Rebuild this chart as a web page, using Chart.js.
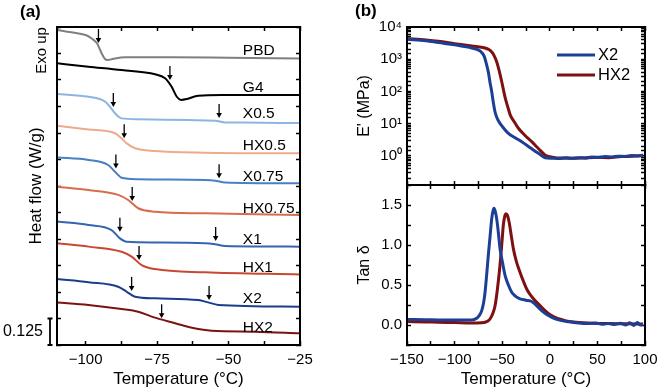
<!DOCTYPE html>
<html>
<head>
<meta charset="utf-8">
<script src="https://cdn.jsdelivr.net/npm/chart.js@4.4.1/dist/chart.umd.min.js"></script>
<style>
html, body { margin: 0; padding: 0; background: #fff; }
#wrap { position: relative; width: 661px; height: 392px; }
canvas { position: absolute; }
#dscChart { left: 0; top: 0; }
#modulusChart { left: 330px; top: 0; }
#tanChart { left: 330px; top: 184px; }
</style>
</head>
<body>
<div id="wrap">
  <canvas id="dscChart" width="330" height="392"></canvas>
  <canvas id="modulusChart" width="331" height="186"></canvas>
  <canvas id="tanChart" width="331" height="208"></canvas>
</div>
<script>
// ---- (a) DSC traces, heat flow in W/g (curves already offset) ----
const dscSamples = ['PBD', 'G4', 'X0.5', 'HX0.5', 'X0.75', 'HX0.75', 'X1', 'HX1', 'X2', 'HX2'];

const tPBD = [-110, -105, -100, -98, -96, -94.4, -93.2, -92.3, -90.3, -86.2, -70, -50, -25];
const hfPBD = [1.486, 1.475, 1.462, 1.447, 1.423, 1.376, 1.349, 1.344, 1.350, 1.357, 1.357, 1.355, 1.352];

const tG4 = [-110, -99, -87.4, -75.7, -72.2, -69.9, -68.1, -66.6, -64.6, -60.6, -52.4, -25];
const hfG4 = [1.329, 1.313, 1.297, 1.277, 1.258, 1.218, 1.171, 1.156, 1.160, 1.176, 1.179, 1.179];

const tX05 = [-110, -99, -93.2, -91.5, -89.7, -87.4, -81.6, -64.1, -54.7, -51.2, -45, -25];
const hfX05 = [1.184, 1.171, 1.148, 1.124, 1.093, 1.069, 1.065, 1.061, 1.058, 1.050, 1.049, 1.047];

const tHX05 = [-110, -99, -89.7, -87.4, -85.6, -82.7, -75.7, -58.2, -25];
const hfHX05 = [1.034, 1.017, 0.999, 0.975, 0.951, 0.928, 0.915, 0.907, 0.904];

const tX075 = [-110, -99, -92.1, -89.7, -87.4, -81.6, -58.2, -54.7, -51.2, -25];
const hfX075 = [0.885, 0.873, 0.849, 0.817, 0.789, 0.782, 0.778, 0.775, 0.767, 0.763];

const tHX075 = [-110, -99, -88.6, -85.1, -81.6, -75.7, -58.2, -25];
const hfHX075 = [0.747, 0.731, 0.708, 0.684, 0.645, 0.629, 0.621, 0.613];

const tX1 = [-110, -99, -90.9, -88, -85.6, -75.7, -58.2, -54.7, -51.2, -25];
const hfX1 = [0.582, 0.566, 0.542, 0.503, 0.487, 0.484, 0.480, 0.475, 0.467, 0.464];

const tHX1 = [-110, -99, -87.4, -83.9, -80.4, -75.7, -58.2, -25];
const hfHX1 = [0.480, 0.464, 0.440, 0.417, 0.377, 0.358, 0.343, 0.333];

const tX2 = [-110, -99, -88.6, -85.6, -82.7, -75.7, -60.6, -57.1, -53.6, -25];
const hfX2 = [0.311, 0.296, 0.275, 0.251, 0.228, 0.220, 0.212, 0.201, 0.189, 0.181];

const tHX2 = [-110, -99, -87.4, -81.6, -76.9, -69.9, -60.6, -55.9, -40.7, -25];
const hfHX2 = [0.201, 0.189, 0.170, 0.157, 0.134, 0.107, 0.075, 0.067, 0.063, 0.055];

// Tg markers (arrow tips)
const arrowT = [-95.5, -70.5, -90.3, -53.3, -86.5, -89.4, -53.3, -83.7, -88, -54.5, -81.3, -83.9, -56.8, -73.4];
const arrowHF = [1.425, 1.250, 1.123, 1.071, 0.975, 0.833, 0.786, 0.679, 0.534, 0.491, 0.401, 0.255, 0.212, 0.126];

const dscTempTicks = [-100, -75, -50, -25];
const scaleBarValue = 0.125;

// ---- (b) DMA, X2 and HX2 ----
const dmaSeries = ['X2', 'HX2'];

const tModX2 = [-150, -130, -117, -100, -82, -73, -69, -66.5, -64.6, -62.8, -61, -59.3, -57.5, -55, -52.3, -48, -43.5, -36, -29.5, -20, -12, -5, 2, 10, 17, 23, 30, 37, 44, 51, 58, 65, 72, 79, 86, 93, 98];
const modX2 = [4170, 3750, 3290, 2800, 2240, 1780, 1250, 700, 405, 190, 98, 45, 23, 14, 10.2, 7, 5.0, 3.6, 2.76, 1.75, 1.2, 0.88, 0.85, 0.83, 0.87, 0.84, 0.88, 0.86, 0.92, 0.89, 0.95, 0.93, 0.98, 0.96, 1.02, 1.0, 1.07];

const tModHX2 = [-150, -130, -117, -100, -82, -68, -64, -61, -58.5, -55.8, -53, -50.5, -48.5, -46.7, -44, -41.5, -37, -33, -26, -19, -12, -5, 0, 5.5, 12, 23, 35, 50, 62, 75, 87, 98];
const modHX2 = [4370, 3950, 3600, 3050, 2570, 2240, 2000, 1680, 1300, 830, 420, 200, 105, 61, 32, 18.5, 11, 7.2, 4.3, 2.76, 1.7, 1.07, 0.95, 0.88, 0.86, 0.84, 0.86, 0.9, 0.88, 0.95, 0.97, 1.03];

const tTanX2 = [-150, -130, -117, -100, -82, -76.8, -74, -71.5, -69.5, -68, -66.3, -64.6, -62.8, -61, -59.8, -58.6, -57.3, -55.8, -54, -52.3, -49.5, -47, -43.5, -40, -35.5, -31.3, -25, -19, -15.5, -12, -7, -1.5, 5, 12.5, 20, 30, 40, 48, 55, 62, 68, 74, 80, 84, 88, 92, 95, 98];
const tanX2 = [0.068, 0.066, 0.063, 0.063, 0.063, 0.084, 0.12, 0.18, 0.28, 0.41, 0.63, 0.87, 1.1, 1.33, 1.42, 1.46, 1.42, 1.33, 1.15, 0.955, 0.77, 0.62, 0.5, 0.41, 0.355, 0.327, 0.31, 0.294, 0.26, 0.22, 0.165, 0.118, 0.08, 0.055, 0.04, 0.025, 0.018, 0.025, 0.008, 0.02, 0.005, 0.022, 0.0, 0.028, -0.005, 0.03, 0.0, 0.01];

const tTanHX2 = [-150, -130, -117, -100, -82, -72, -68, -65, -62.8, -60, -57.5, -55, -52.3, -50.5, -48.8, -47.3, -46, -44.5, -42.8, -40.5, -38.3, -35, -31.3, -27.5, -24.3, -20, -15.5, -10, -5, 0, 5.5, 10, 16, 25, 40.4, 60, 80, 98];
const tanHX2 = [0.043, 0.038, 0.034, 0.03, 0.025, 0.028, 0.034, 0.05, 0.075, 0.14, 0.24, 0.45, 0.75, 1.0, 1.25, 1.36, 1.39, 1.37, 1.29, 1.12, 0.955, 0.79, 0.66, 0.54, 0.45, 0.37, 0.306, 0.24, 0.18, 0.13, 0.097, 0.075, 0.055, 0.038, 0.025, 0.018, 0.015, 0.013];

const dmaTempTicks = [-150, -100, -50, 0, 50, 100];
const modulusTicks = [1, 10, 100, 1000, 10000];
const tanTicks = [0, 0.5, 1.0, 1.5];

// ---------------------------------------------------------------
Chart.defaults.font.family = '"Liberation Sans", Arial, sans-serif';
Chart.defaults.color = '#000';

const dscColors = ['#7f7f7f', '#000000', '#8db5e1', '#eeaa8c', '#4a80c2', '#d96b50', '#3565b0', '#c84832', '#1b3d8e', '#7a1414'];
const dmaColors = ['#1c3f96', '#7d1010'];

const pts = (xs, ys) => xs.map((x, i) => ({ x: x, y: ys[i] }));
const minusFmt = v => (v < 0 ? '\u2212' + Math.abs(v) : String(v));
const hasVal = (arr, v) => arr.some(a => Math.abs(a - v) < 1e-6 * Math.max(1, Math.abs(a)));
const sup = { '0': '\u2070', '1': '\u00b9', '2': '\u00b2', '3': '\u00b3', '4': '\u2074' };

// frame: axis borders on all four sides, short ticks pointing inward
const frameGrid = () => ({ display: true, drawOnChartArea: false, drawTicks: true, tickLength: -4, tickWidth: 1.5, tickColor: '#000' });
const frameBorder = () => ({ display: true, color: '#000', width: 2 });
const fixH = h => s => { s.height = h; s.paddingLeft = 0; s.paddingRight = 0; s.paddingTop = 0; s.paddingBottom = 0; };
const fixW = w => s => { s.width = w; s.paddingLeft = 0; s.paddingRight = 0; s.paddingTop = 0; s.paddingBottom = 0; };

function mirrorAxis(type, position, min, max, stepSize) {
  return {
    type: type, position: position, min: min, max: max,
    afterFit: position === 'top' ? fixH(0) : fixW(0),
    grid: frameGrid(), border: frameBorder(),
    ticks: { display: false, stepSize: stepSize, autoSkip: false }
  };
}

// plot box outline, drawn over the series
const boxPlugin = {
  id: 'plotBox',
  afterDatasetsDraw(chart) {
    const ctx = chart.ctx;
    const a = chart.chartArea;
    ctx.save();
    ctx.strokeStyle = '#000';
    ctx.lineWidth = 2;
    ctx.strokeRect(a.left, a.top, a.right - a.left, a.bottom - a.top);
    ctx.restore();
  }
};

// sample names, Tg arrows, scale bar, side labels for (a)
const dscExtras = {
  id: 'dscExtras',
  afterDatasetsDraw(chart) {
    const { ctx, chartArea: a } = chart;
    const xs = chart.scales.x, ys = chart.scales.y;
    ctx.save();
    ctx.strokeStyle = '#000';
    ctx.fillStyle = '#000';
    ctx.lineWidth = 1.3;
    arrowT.forEach((t, i) => {
      const px = xs.getPixelForValue(t);
      const py = ys.getPixelForValue(arrowHF[i]);
      ctx.beginPath();
      ctx.moveTo(px, py - 14);
      ctx.lineTo(px, py - 4);
      ctx.stroke();
      ctx.beginPath();
      ctx.moveTo(px - 2.8, py - 5);
      ctx.lineTo(px + 2.8, py - 5);
      ctx.lineTo(px, py);
      ctx.closePath();
      ctx.fill();
    });
    ctx.font = '15.5px "Liberation Sans", Arial, sans-serif';
    ctx.textAlign = 'left';
    ctx.textBaseline = 'middle';
    const labelHF = [1.387, 1.215, 1.092, 0.939, 0.794, 0.641, 0.495, 0.366, 0.217, 0.083];
    dscSamples.forEach((s, i) => {
      ctx.fillText(s, xs.getPixelForValue(-45), ys.getPixelForValue(labelHF[i]));
    });
    const y0 = ys.getPixelForValue(0), y1 = ys.getPixelForValue(scaleBarValue);
    const bx = a.left - 7;
    ctx.lineWidth = 1.8;
    ctx.beginPath();
    ctx.moveTo(bx, y0); ctx.lineTo(bx, y1);
    ctx.moveTo(bx - 2.5, y0); ctx.lineTo(bx + 2.5, y0);
    ctx.moveTo(bx - 2.5, y1); ctx.lineTo(bx + 2.5, y1);
    ctx.stroke();
    ctx.font = '16px "Liberation Sans", Arial, sans-serif';
    ctx.textAlign = 'right';
    ctx.fillText(String(scaleBarValue), a.left - 14, (y0 + y1) / 2);
    ctx.save();
    ctx.translate(a.left - 15.5, a.top + 23.5);
    ctx.rotate(-Math.PI / 2);
    ctx.textAlign = 'center';
    ctx.font = '15px "Liberation Sans", Arial, sans-serif';
    ctx.fillText('Exo up', 0, 0);
    ctx.restore();
    ctx.font = 'bold 17px "Liberation Sans", Arial, sans-serif';
    ctx.textAlign = 'left';
    ctx.fillText('(a)', 20, 12);
    ctx.restore();
  }
};

const modExtras = {
  id: 'modExtras',
  afterDatasetsDraw(chart) {
    const { ctx, chartArea: a } = chart;
    ctx.save();
    ctx.textBaseline = 'middle';
    ctx.font = '16.5px "Liberation Sans", Arial, sans-serif';
    chart.data.datasets.forEach((d, i) => {
      const y = a.top + 28 + i * 20;
      ctx.strokeStyle = d.borderColor;
      ctx.lineWidth = 3;
      ctx.beginPath();
      ctx.moveTo(a.left + 150, y);
      ctx.lineTo(a.left + 188, y);
      ctx.stroke();
      ctx.fillStyle = '#000';
      ctx.fillText(d.label, a.left + 191, y);
    });
    ctx.font = 'bold 17px "Liberation Sans", Arial, sans-serif';
    ctx.fillText('(b)', 25, 11);
    ctx.restore();
  }
};

// ---- (a) DSC ----
const dscData = [
  [tPBD, hfPBD], [tG4, hfG4], [tX05, hfX05], [tHX05, hfHX05], [tX075, hfX075],
  [tHX075, hfHX075], [tX1, hfX1], [tHX1, hfHX1], [tX2, hfX2], [tHX2, hfHX2]
];

new Chart(document.getElementById('dscChart'), {
  type: 'line',
  data: {
    datasets: dscSamples.map((s, i) => ({
      label: s,
      data: pts(dscData[i][0], dscData[i][1]),
      xAxisID: 'x', yAxisID: 'y',
      borderColor: dscColors[i],
      borderWidth: 2,
      pointRadius: 0,
      cubicInterpolationMode: 'monotone'
    }))
  },
  options: {
    responsive: false,
    animation: false,
    devicePixelRatio: 1,
    layout: { padding: { left: 0, top: 27, right: 30, bottom: 0 } },
    plugins: { legend: { display: false }, tooltip: { enabled: false } },
    scales: {
      x: {
        type: 'linear', position: 'bottom', min: -110, max: -25,
        afterFit: fixH(47),
        grid: frameGrid(), border: frameBorder(),
        ticks: {
          stepSize: 12.5, autoSkip: false, includeBounds: false, maxRotation: 0, padding: 10,
          font: { size: 15 },
          callback: v => (hasVal(dscTempTicks, v) ? minusFmt(v) : '')
        },
        title: { display: true, text: 'Temperature (\u00b0C)', font: { size: 17 }, padding: { top: 0, bottom: 2 } }
      },
      x2: mirrorAxis('linear', 'top', -110, -25, 12.5),
      y: {
        type: 'linear', position: 'left', min: 0, max: 1.5,
        afterFit: fixW(57),
        grid: frameGrid(), border: frameBorder(),
        ticks: { display: false, stepSize: 0.125, autoSkip: false },
        title: { display: true, text: 'Heat flow (W/g)', font: { size: 17 }, padding: { top: 26.3, bottom: 0 } }
      },
      y2: mirrorAxis('linear', 'right', 0, 1.5, 0.125)
    }
  },
  plugins: [boxPlugin, dscExtras]
});

// ---- (b) top: storage modulus ----
new Chart(document.getElementById('modulusChart'), {
  type: 'line',
  data: {
    datasets: [
      { label: dmaSeries[0], data: pts(tModX2, modX2), borderColor: dmaColors[0] },
      { label: dmaSeries[1], data: pts(tModHX2, modHX2), borderColor: dmaColors[1] }
    ].map(d => Object.assign(d, { xAxisID: 'x', yAxisID: 'y', borderWidth: 3, pointRadius: 0, cubicInterpolationMode: 'monotone' }))
  },
  options: {
    responsive: false,
    animation: false,
    devicePixelRatio: 1,
    layout: { padding: { left: 0, top: 27, right: 16, bottom: 1 } },
    plugins: { legend: { display: false }, tooltip: { enabled: false } },
    scales: {
      x: {
        type: 'linear', position: 'bottom', min: -150, max: 100,
        afterFit: fixH(0),
        grid: frameGrid(), border: frameBorder(),
        ticks: { display: false, stepSize: 25, autoSkip: false }
      },
      x2: mirrorAxis('linear', 'top', -150, 100, 25),
      y: {
        type: 'logarithmic', position: 'left', min: 0.125, max: 10000,
        afterFit: fixW(77),
        grid: frameGrid(), border: frameBorder(),
        ticks: {
          autoSkip: false, padding: 9, font: { size: 15 },
          callback: v => {
            if (!hasVal(modulusTicks, v)) return '';
            return '10' + sup[String(Math.round(Math.log10(v)))];
          }
        },
        title: { display: true, text: "E' (MPa)", font: { size: 16 }, padding: { top: 25.4, bottom: 0 } }
      },
      y2: mirrorAxis('logarithmic', 'right', 0.125, 10000, undefined)
    }
  },
  plugins: [boxPlugin, modExtras]
});

// ---- (b) bottom: tan delta ----
new Chart(document.getElementById('tanChart'), {
  type: 'line',
  data: {
    datasets: [
      { label: dmaSeries[0], data: pts(tTanX2, tanX2), borderColor: dmaColors[0] },
      { label: dmaSeries[1], data: pts(tTanHX2, tanHX2), borderColor: dmaColors[1] }
    ].map(d => Object.assign(d, { xAxisID: 'x', yAxisID: 'y', borderWidth: 3, pointRadius: 0, cubicInterpolationMode: 'monotone' }))
  },
  options: {
    responsive: false,
    animation: false,
    devicePixelRatio: 1,
    layout: { padding: { left: 0, top: 1, right: 16, bottom: 0 } },
    plugins: { legend: { display: false }, tooltip: { enabled: false } },
    scales: {
      x: {
        type: 'linear', position: 'bottom', min: -150, max: 100,
        afterFit: fixH(47),
        grid: frameGrid(), border: frameBorder(),
        ticks: {
          stepSize: 25, autoSkip: false, maxRotation: 0, padding: 10, font: { size: 15 },
          callback: v => (hasVal(dmaTempTicks, v) ? minusFmt(v) : '')
        },
        title: { display: true, text: 'Temperature (\u00b0C)', font: { size: 17 }, padding: { top: 0, bottom: 2 } }
      },
      x2: mirrorAxis('linear', 'top', -150, 100, 25),
      y: {
        type: 'linear', position: 'left', min: -0.25, max: 1.75,
        afterFit: fixW(77),
        grid: frameGrid(), border: frameBorder(),
        ticks: {
          stepSize: 0.25, autoSkip: false, padding: 9, font: { size: 15 },
          callback: v => (hasVal(tanTicks, v) ? v.toFixed(1) : '')
        },
        title: { display: true, text: 'Tan \u03b4', font: { size: 16 }, padding: { top: 25.4, bottom: 0 } }
      },
      y2: mirrorAxis('linear', 'right', -0.25, 1.75, 0.25)
    }
  },
  plugins: [boxPlugin]
});
</script>
</body>
</html>
